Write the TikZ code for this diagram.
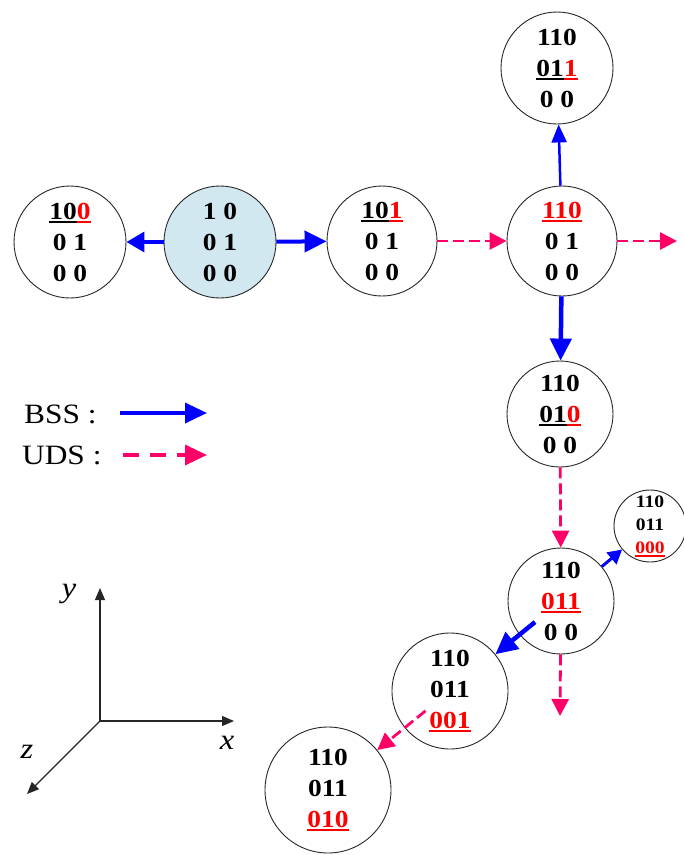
\documentclass[tikz,border=0pt]{standalone}
\usepackage{fontspec}
\setmainfont{Liberation Serif}[FakeStretch=1.12]
\usetikzlibrary{arrows.meta}
\definecolor{bssblue}{RGB}{0,0,255}
\definecolor{udspink}{RGB}{255,0,102}
\definecolor{startfill}{RGB}{210,232,240}
\definecolor{ulred}{RGB}{255,0,0}
\newcommand\myul[2]{{\color{#1}\setbox0\hbox{#2}\rlap{\rule[-3.5pt]{\wd0}{1.6pt}}\box0}}
\begin{document}
\begin{tikzpicture}[x=1pt,y=-1pt,
  state/.style={circle,draw=black!85,line width=0.9pt,inner sep=0pt,minimum size=112pt,align=center,font=\fontsize{24.5}{31}\selectfont\bfseries},
  smallstate/.style={state,minimum size=72pt,font=\fontsize{17.5}{23}\selectfont\bfseries},
  bss/.style={draw=bssblue,line width=3.5pt,-{Triangle[length=18pt,width=20pt]}},
  bssthin/.style={draw=bssblue,line width=2.5pt,-{Triangle[length=18pt,width=15pt]}},
  bssthick/.style={draw=bssblue,line width=4.5pt,-{Triangle[length=22pt,width=21pt]}},
  uds/.style={draw=udspink,line width=2.8pt,dash pattern=on 11pt off 5pt,-{Triangle[length=17pt,width=17pt]}},
  axis/.style={draw=black!85,line width=1.2pt,-{Triangle[length=12pt,width=10pt]}},
  legendtext/.style={font=\fontsize{28}{30}\selectfont,anchor=west,inner sep=0pt},
  axlabel/.style={font=\fontsize{29}{30}\selectfont\itshape}]
\useasboundingbox (0,0) rectangle (684,855);

% states
\node[state] (A) at (70,242) {\myul{black}{10}\myul{ulred}{0}\\0 1\\0 0};
\node[state,fill=startfill] (B) at (220,242) {1 0\\0 1\\0 0};
\node[state,minimum size=110pt] (C) at (382,241) {\myul{black}{10}\myul{ulred}{1}\\0 1\\0 0};
\node[state,minimum size=110pt] (D) at (562,241) {\myul{ulred}{110}\\0 1\\0 0};
\node[state,minimum size=112pt] (E) at (557,68) {110\\\myul{black}{01}\myul{ulred}{1}\\0 0};
\node[state,minimum size=106pt] (F) at (560,414) {110\\\myul{black}{01}\myul{ulred}{0}\\0 0};
\node[state,minimum size=106pt] (G) at (561,601) {110\\\myul{ulred}{011}\\0 0};
\node[smallstate] (H) at (650,526) {110\\011\\\myul{ulred}{000}};
\node[state,minimum size=116pt] (I) at (450,691) {110\\011\\\myul{ulred}{001}};
\node[state,minimum size=126pt] (J) at (328,790) {110\\011\\\myul{ulred}{010}};

% free ends
\coordinate (Dout) at (677,241);
\coordinate (Gout) at (560,716);

% connectors
\draw[bss] (B) -- (A);
\draw[bssthick,line width=4pt] (B) -- (C);
\draw[uds] (C) -- (D);
\draw[uds] (D) -- (Dout);
\draw[bssthin] (D) -- (E);
\draw[bssthick] (D) -- (F);
\draw[uds] (F) -- (G);
\draw[bss,line width=3pt,-{Triangle[length=14pt,width=15pt]}] (G) -- (H);
\draw[bssthick,shorten <=-20pt] (G) -- (I);
\draw[uds] (G) -- (Gout);
\draw[uds,shorten <=-27pt] (I) -- (J);

% legend
\node[legendtext] (bssl) at (24,414) {BSS :};
\node[legendtext] (udsl) at (22,455) {UDS :};
\coordinate (b1) at (120,413);
\coordinate (b2) at (207,413);
\coordinate (u1) at (123,455);
\coordinate (u2) at (207,455);
\draw[bss,-{Triangle[length=22pt,width=20pt]}] (b1) -- (b2);
\draw[uds,line width=3.5pt,dash pattern=on 16pt off 11pt,-{Triangle[length=22pt,width=20pt]}] (u1) -- (u2);

% axes
\coordinate (O) at (100,721);
\coordinate (Y) at (100,588);
\coordinate (X) at (234,721);
\coordinate (Z) at (27,794);
\draw[axis] (O) -- (Y);
\draw[axis] (O) -- (X);
\draw[axis] (O) -- (Z);
\node[axlabel] (ly) at (69,594) {y};
\node[axlabel] (lx) at (227,743) {x};
\node[axlabel] (lz) at (27,752) {z};
\end{tikzpicture}
\end{document}
